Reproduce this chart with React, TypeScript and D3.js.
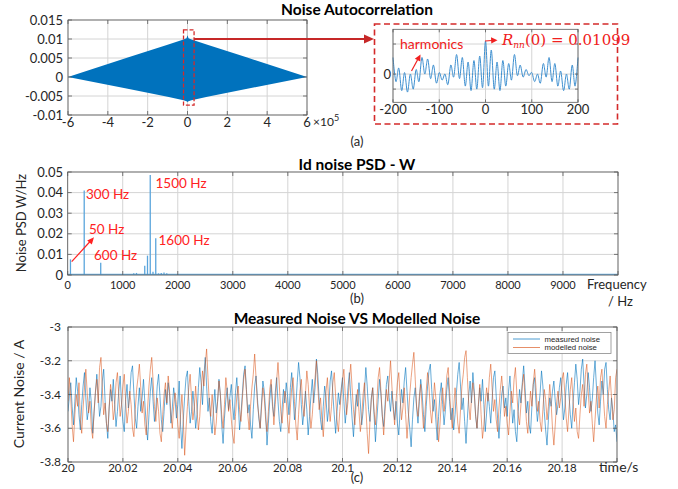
import * as d3 from "d3";
import React from "react";

// (a) autocorrelation envelope
const acLag = [-6e5, -3e5, -1e5, -2e4, -5e3, 0, 5e3, 2e4, 1e5, 3e5, 6e5];
const acUpper = [0, 0.0051, 0.0085, 0.0099, 0.0102, 0.011, 0.0102, 0.0099, 0.0085, 0.0051, 0];
const acLower = [0, -0.0031, -0.0052, -0.0061, -0.0064, -0.0066, -0.0064, -0.0061, -0.0052, -0.0031, 0];

// inset, lag -200..200 every 6.25
const insetVal = [
  5.5, -2.5, 2.0, -5.5, 0.5, -6.0, 0.0, -5.0, 1.5, -2.5, 5.5, 0.0, 5.0, -1.5, 3.0, -3.0,
  0.5, -2.0, 0.0, -3.5, 3.0, -1.0, 6.5, -1.5, 5.5, -4.0, 4.0, -5.5, 4.5, -5.0, 6.0, -4.5,
  11.0, -4.0, 8.0, -5.0, 4.0, -5.5, 4.5, -4.0, 3.5, -2.0, 6.5, -0.5, 3.0, -1.0, 1.5, -0.5,
  0.5, -2.5, 0.0, -3.0, 3.5, -1.0, 5.5, -2.5, 3.5, -4.0, 1.0, -5.5, 0.0, -5.0, 3.0, -4.0, 5.5,
];
const insetLag = insetVal.map((_, i) => -200 + i * 6.25);

// (b) PSD spikes
const psdFreq = [50, 300, 600, 1200, 1250, 1400, 1450, 1500, 1550, 1600, 1650, 1700, 1750, 1800, 2000];
const psdVal = [0.0076, 0.041, 0.006, 0.0008, 0.001, 0.0045, 0.0094, 0.0485, 0.0016, 0.0178, 0.0008, 0.001, 0.0012, 0.0009, 0.0004];

// (c) noise, 20.000..20.200 every 0.5 ms
const measured = [
  -3.50,-3.41,-3.33,-3.47,-3.58,-3.44,-3.30,-3.38,-3.52,-3.61,-3.46,-3.35,-3.27,-3.42,-3.55,-3.49,-3.36,-3.45,-3.63,-3.51,
  -3.39,-3.28,-3.40,-3.53,-3.47,-3.32,-3.25,-3.43,-3.57,-3.66,-3.48,-3.37,-3.44,-3.31,-3.46,-3.59,-3.50,-3.38,-3.29,-3.45,
  -3.56,-3.62,-3.43,-3.34,-3.48,-3.40,-3.27,-3.23,-3.39,-3.54,-3.60,-3.47,-3.36,-3.50,-3.42,-3.31,-3.45,-3.58,-3.67,-3.52,
  -3.38,-3.30,-3.44,-3.56,-3.49,-3.35,-3.28,-3.41,-3.55,-3.62,-3.50,-3.37,-3.46,-3.33,-3.40,-3.57,-3.48,-3.36,-3.43,-3.54,
  -3.46,-3.32,-3.58,-3.72,-3.55,-3.41,-3.30,-3.26,-3.44,-3.57,-3.50,-3.38,-3.47,-3.60,-3.52,-3.36,-3.24,-3.33,-3.46,-3.29,
  -3.18,-3.35,-3.50,-3.42,-3.56,-3.63,-3.48,-3.37,-3.51,-3.44,-3.31,-3.40,-3.58,-3.69,-3.54,-3.43,-3.36,-3.49,-3.41,-3.34,
  -3.47,-3.55,-3.39,-3.30,-3.44,-3.61,-3.52,-3.40,-3.28,-3.23,-3.37,-3.51,-3.46,-3.58,-3.66,-3.49,-3.35,-3.29,-3.42,-3.54,
  -3.60,-3.45,-3.32,-3.38,-3.50,-3.70,-3.57,-3.43,-3.34,-3.47,-3.53,-3.39,-3.30,-3.44,-3.56,-3.62,-3.48,-3.37,-3.45,-3.33,
  -3.41,-3.52,-3.36,-3.27,-3.40,-3.55,-3.47,-3.33,-3.21,-3.30,-3.46,-3.58,-3.50,-3.38,-3.49,-3.64,-3.53,-3.41,-3.31,-3.45,
  -3.36,-3.19,-3.28,-3.43,-3.55,-3.61,-3.47,-3.35,-3.42,-3.56,-3.48,-3.32,-3.26,-3.40,-3.52,-3.63,-3.50,-3.39,-3.46,-3.37,
  -3.30,-3.44,-3.57,-3.48,-3.36,-3.27,-3.41,-3.54,-3.65,-3.51,-3.40,-3.47,-3.33,-3.45,-3.58,-3.50,-3.38,-3.24,-3.35,-3.49,
  -3.56,-3.42,-3.36,-3.52,-3.68,-3.55,-3.43,-3.31,-3.40,-3.53,-3.59,-3.46,-3.34,-3.29,-3.42,-3.50,-3.38,-3.47,-3.55,-3.44,
  -3.57,-3.64,-3.49,-3.37,-3.45,-3.32,-3.24,-3.38,-3.51,-3.60,-3.71,-3.55,-3.42,-3.36,-3.48,-3.57,-3.44,-3.31,-3.39,-3.52,
  -3.62,-3.47,-3.35,-3.26,-3.22,-3.37,-3.50,-3.43,-3.55,-3.67,-3.53,-3.40,-3.33,-3.46,-3.58,-3.49,-3.37,-3.30,-3.44,-3.55,
  -3.48,-3.61,-3.52,-3.39,-3.28,-3.21,-3.35,-3.49,-3.42,-3.56,-3.69,-3.54,-3.40,-3.32,-3.45,-3.27,-3.38,-3.53,-3.60,-3.47,
  -3.36,-3.44,-3.31,-3.46,-3.62,-3.51,-3.39,-3.47,-3.57,-3.43,-3.30,-3.26,-3.41,-3.54,-3.66,-3.52,-3.40,-3.35,-3.48,-3.42,
  -3.53,-3.38,-3.29,-3.43,-3.57,-3.49,-3.62,-3.68,-3.50,-3.37,-3.45,-3.33,-3.23,-3.36,-3.51,-3.44,-3.58,-3.63,-3.47,-3.34,
  -3.30,-3.45,-3.56,-3.48,-3.39,-3.26,-3.35,-3.50,-3.61,-3.70,-3.55,-3.42,-3.47,-3.38,-3.32,-3.44,-3.52,-3.46,-3.36,-3.30,
  -3.42,-3.55,-3.48,-3.34,-3.27,-3.40,-3.52,-3.60,-3.45,-3.33,-3.22,-3.31,-3.46,-3.38,-3.25,-3.19,-3.34,-3.48,-3.40,-3.27,
  -3.36,-3.50,-3.43,-3.30,-3.20,-3.35,-3.51,-3.58,-3.44,-3.32,-3.40,-3.25,-3.21,-3.37,-3.49,-3.55,-3.42,-3.50,-3.62,-3.58,
  -3.68,
];
const modelled = [
  -3.44,-3.30,-3.42,-3.58,-3.68,-3.52,-3.40,-3.47,-3.33,-3.55,-3.63,-3.48,-3.36,-3.25,-3.39,-3.51,-3.44,-3.60,-3.66,-3.50,
  -3.38,-3.31,-3.45,-3.24,-3.18,-3.36,-3.52,-3.45,-3.57,-3.62,-3.47,-3.34,-3.41,-3.55,-3.48,-3.33,-3.27,-3.40,-3.53,-3.46,
  -3.35,-3.28,-3.44,-3.57,-3.50,-3.38,-3.46,-3.60,-3.65,-3.49,-3.37,-3.30,-3.22,-3.36,-3.51,-3.44,-3.58,-3.64,-3.48,-3.35,
  -3.25,-3.18,-3.32,-3.47,-3.56,-3.42,-3.50,-3.63,-3.68,-3.52,-3.40,-3.33,-3.45,-3.29,-3.38,-3.52,-3.60,-3.47,-3.39,-3.46,
  -3.58,-3.66,-3.52,-3.40,-3.55,-3.76,-3.60,-3.47,-3.36,-3.28,-3.42,-3.55,-3.48,-3.35,-3.49,-3.61,-3.53,-3.38,-3.26,-3.35,
  -3.22,-3.13,-3.30,-3.45,-3.53,-3.40,-3.51,-3.64,-3.57,-3.44,-3.32,-3.40,-3.52,-3.60,-3.46,-3.30,-3.38,-3.50,-3.43,-3.55,
  -3.64,-3.69,-3.53,-3.41,-3.35,-3.49,-3.56,-3.43,-3.31,-3.25,-3.38,-3.52,-3.61,-3.47,-3.36,-3.28,-3.16,-3.30,-3.45,-3.52,
  -3.60,-3.48,-3.36,-3.42,-3.55,-3.62,-3.50,-3.37,-3.31,-3.44,-3.58,-3.46,-3.32,-3.21,-3.35,-3.50,-3.57,-3.46,-3.38,-3.43,
  -3.55,-3.63,-3.48,-3.36,-3.30,-3.44,-3.58,-3.67,-3.52,-3.38,-3.31,-3.46,-3.53,-3.40,-3.26,-3.34,-3.48,-3.60,-3.52,-3.39,
  -3.30,-3.20,-3.35,-3.49,-3.42,-3.55,-3.65,-3.51,-3.38,-3.30,-3.45,-3.56,-3.47,-3.33,-3.27,-3.41,-3.55,-3.62,-3.50,-3.40,
  -3.32,-3.25,-3.40,-3.52,-3.44,-3.31,-3.22,-3.36,-3.49,-3.58,-3.45,-3.37,-3.50,-3.62,-3.54,-3.40,-3.33,-3.47,-3.63,-3.75,
  -3.56,-3.43,-3.36,-3.50,-3.58,-3.45,-3.30,-3.24,-3.38,-3.52,-3.64,-3.50,-3.37,-3.44,-3.32,-3.20,-3.35,-3.49,-3.58,-3.44,
  -3.33,-3.27,-3.42,-3.55,-3.48,-3.36,-3.52,-3.66,-3.54,-3.40,-3.30,-3.22,-3.15,-3.31,-3.47,-3.53,-3.41,-3.34,-3.48,-3.60,
  -3.52,-3.38,-3.27,-3.35,-3.49,-3.57,-3.46,-3.33,-3.42,-3.55,-3.68,-3.58,-3.44,-3.36,-3.50,-3.42,-3.29,-3.24,-3.38,-3.52,
  -3.60,-3.48,-3.36,-3.44,-3.57,-3.63,-3.49,-3.35,-3.28,-3.18,-3.14,-3.30,-3.46,-3.55,-3.42,-3.33,-3.40,-3.52,-3.60,-3.46,
  -3.34,-3.52,-3.66,-3.58,-3.45,-3.36,-3.44,-3.30,-3.22,-3.36,-3.50,-3.43,-3.55,-3.62,-3.48,-3.37,-3.29,-3.40,-3.53,-3.47,
  -3.57,-3.64,-3.50,-3.38,-3.45,-3.31,-3.24,-3.39,-3.52,-3.58,-3.46,-3.35,-3.28,-3.42,-3.56,-3.63,-3.50,-3.38,-3.47,-3.33,
  -3.25,-3.36,-3.50,-3.44,-3.56,-3.62,-3.49,-3.37,-3.43,-3.55,-3.47,-3.34,-3.45,-3.60,-3.70,-3.58,-3.45,-3.38,-3.48,-3.42,
  -3.31,-3.27,-3.40,-3.54,-3.62,-3.49,-3.37,-3.30,-3.44,-3.56,-3.48,-3.62,-3.66,-3.52,-3.40,-3.34,-3.47,-3.28,-3.22,-3.38,
  -3.51,-3.44,-3.57,-3.68,-3.55,-3.42,-3.35,-3.48,-3.30,-3.25,-3.40,-3.53,-3.60,-3.46,-3.38,-3.29,-3.42,-3.55,-3.49,-3.30,
  -3.25,
];
const timeOf = (n: number) => (i: number) => 20 + (i * 0.2) / (n - 1);

const aXTicks = [-6, -4, -2, 0, 2, 4, 6];
const aYTicks = [-0.01, -0.005, 0, 0.005, 0.01, 0.015];
const aYLabels = ["-0.01", "-0.005", "0", "0.005", "0.01", "0.015"];
const insetXTicks = [-200, -100, 0, 100, 200];
const insetYTicks = [-0.005, 0, 0.01];
const bXTicks = [0, 1000, 2000, 3000, 4000, 5000, 6000, 7000, 8000, 9000, 10000];
const bYTicks = [0, 0.01, 0.02, 0.03, 0.04, 0.05];
const cXTicks = [20, 20.02, 20.04, 20.06, 20.08, 20.1, 20.12, 20.14, 20.16, 20.18, 20.2];
const cYTicks = [-3.8, -3.6, -3.4, -3.2, -3];

const SANS = "Lato, 'Open Sans', sans-serif";
const TXT = "#262626";
const GRID = "#d4d4d4";
const FRAME = "#5a5a5a";
const BLUE = "#0072BD";
const ORANGE = "#D95319";

function Grid({ x, y, xt, yt }: any) {
  const [x0, x1] = x.range();
  const [y0, y1] = y.range();
  return (
    <g>
      {xt.map((t: number, i: number) => (
        <line key={"gx" + i} x1={x(t)} x2={x(t)} y1={y0} y2={y1} stroke={GRID} strokeWidth={1} />
      ))}
      {yt.map((t: number, i: number) => (
        <line key={"gy" + i} x1={x0} x2={x1} y1={y(t)} y2={y(t)} stroke={GRID} strokeWidth={1} />
      ))}
    </g>
  );
}

function Box({ x, y, xt, yt, tick = 4 }: any) {
  const [x0, x1] = x.range();
  const [y0, y1] = y.range();
  return (
    <g stroke={FRAME} strokeWidth={0.8} fill="none">
      <rect x={x0} y={y1} width={x1 - x0} height={y0 - y1} />
      {xt.map((t: number, i: number) => (
        <g key={"tx" + i}>
          <line x1={x(t)} x2={x(t)} y1={y0} y2={y0 - tick} />
          <line x1={x(t)} x2={x(t)} y1={y1} y2={y1 + tick} />
        </g>
      ))}
      {yt.map((t: number, i: number) => (
        <g key={"ty" + i}>
          <line x1={x0} x2={x0 + tick} y1={y(t)} y2={y(t)} />
          <line x1={x1} x2={x1 - tick} y1={y(t)} y2={y(t)} />
        </g>
      ))}
    </g>
  );
}

export default function App() {
  const xA = d3.scaleLinear().domain([-6e5, 6e5]).range([68, 307]);
  const yA = d3.scaleLinear().domain([-0.01, 0.015]).range([115, 20]);
  const xI = d3.scaleLinear().domain([-200, 200]).range([393, 578]);
  const yI = d3.scaleLinear().domain([-0.0094, 0.0149]).range([102.3, 29.3]);
  const xB = d3.scaleLinear().domain([0, 10000]).range([67.7, 618]);
  const yB = d3.scaleLinear().domain([0, 0.05]).range([275, 172]);
  const xC = d3.scaleLinear().domain([20, 20.2]).range([68, 617]);
  const yC = d3.scaleLinear().domain([-3.8, -3]).range([462, 327]);

  const acArea = d3
    .area<number>()
    .x((_, i) => xA(acLag[i]))
    .y0((_, i) => yA(acLower[i]))
    .y1((d) => yA(d));

  const insetLine = d3
    .line<number>()
    .x((_, i) => xI(insetLag[i]))
    .y((d) => yI(d / 1000))
    .curve(d3.curveCardinal);

  const noisePath = (vals: number[]) => {
    const t = timeOf(vals.length);
    return d3
      .line<number>()
      .x((_, i) => xC(t(i)))
      .y((d) => yC(d))(vals) || "";
  };

  const rx0 = xA(-2e4), rx1 = xA(3.3e4);
  const ry0 = yA(0.0124), ry1 = yA(-0.0074);
  const arrowY = yA(0.01);

  return (
    <svg width={678} height={489} style={{ position: "absolute", left: 0, top: 0, background: "#fff" }} fontFamily={SANS}>
      {/* ---------- (a) ---------- */}
      <text x={357} y={15} textAnchor="middle" fontWeight="bold" fontSize={15.5} fill="#000">Noise Autocorrelation</text>
      <Grid x={xA} y={yA} xt={aXTicks.map((d) => d * 1e5)} yt={aYTicks} />
      <path d={acArea(acUpper) || ""} fill={BLUE} />
      <Box x={xA} y={yA} xt={aXTicks.map((d) => d * 1e5)} yt={aYTicks} />
      {aYTicks.map((t, i) => (
        <text key={i} x={63} y={yA(t) + 4.5} textAnchor="end" fontSize={13} fill={TXT}>{aYLabels[i]}</text>
      ))}
      {aXTicks.map((t, i) => (
        <text key={i} x={xA(t * 1e5)} y={127} textAnchor="middle" fontSize={13} fill={TXT}>{t}</text>
      ))}
      <text x={313} y={126} fontSize={12} fill={TXT}>×10<tspan dy={-5} fontSize={9}>5</tspan></text>
      <rect x={rx0} y={ry0} width={rx1 - rx0} height={ry1 - ry0} fill="none" stroke="#d42a2a" strokeWidth={1.3} strokeDasharray="4,2" />
      <line x1={rx1} x2={368} y1={arrowY} y2={arrowY} stroke="#c62828" strokeWidth={2} />
      <polygon points={`374,${arrowY} 364,${arrowY - 4.5} 364,${arrowY + 4.5}`} fill="#c62828" />
      <rect x={374.5} y={24} width={243} height={100} fill="none" stroke="#d42a2a" strokeWidth={1.6} strokeDasharray="6,3.5" />
      {/* inset */}
      <Grid x={xI} y={yI} xt={insetXTicks} yt={insetYTicks} />
      <path d={insetLine(insetVal) || ""} fill="none" stroke="#3d8fd0" strokeWidth={1} />
      <Box x={xI} y={yI} xt={insetXTicks} yt={insetYTicks} tick={3} />
      {insetXTicks.map((t, i) => (
        <text key={i} x={xI(t)} y={114} textAnchor="middle" fontSize={13} fill={TXT}>{t}</text>
      ))}
      <text x={391} y={yI(0) + 4.5} textAnchor="end" fontSize={13} fill={TXT}>0</text>
      <text x={400} y={49} fontSize={14} fill="#f02020">harmonics</text>
      <line x1={411.5} y1={71} x2={418} y2={59} stroke="#f02020" strokeWidth={1.2} />
      <polygon points="420.5,54.5 414.8,58.8 420.3,61.5" fill="#f02020" />
      <line x1={485} y1={41} x2={492} y2={40.5} stroke="#f02020" strokeWidth={1.2} />
      <polygon points="497.5,40.2 491,37.2 491.3,43.4" fill="#f02020" />
      <text x={502} y={45} fontSize={15} fill="#f02020" fontFamily="'DejaVu Serif', serif">
        <tspan fontStyle="italic">R</tspan>
        <tspan fontStyle="italic" fontSize={9} dy={3}>nn</tspan>
        <tspan dy={-3}>(0) = 0.01099</tspan>
      </text>
      <text x={357} y={146} textAnchor="middle" fontSize={13} fill={TXT}>(a)</text>

      {/* ---------- (b) ---------- */}
      <text x={357} y={170} textAnchor="middle" fontWeight="bold" fontSize={15.5} fill="#000">Id noise PSD - W</text>
      <Grid x={xB} y={yB} xt={bXTicks} yt={bYTicks} />
      <line x1={xB(0)} x2={xB(10000)} y1={yB(0.0003)} y2={yB(0.0003)} stroke="#6aaee0" strokeWidth={1.2} />
      {psdFreq.map((f, i) => (
        <line key={i} x1={xB(f)} x2={xB(f)} y1={yB(0)} y2={yB(psdVal[i])} stroke="#5aa5dc" strokeWidth={1.3} />
      ))}
      <Box x={xB} y={yB} xt={bXTicks} yt={bYTicks} />
      {bYTicks.map((t, i) => (
        <text key={i} x={63} y={yB(t) + 4.5} textAnchor="end" fontSize={13} fill={TXT}>{t}</text>
      ))}
      {bXTicks.slice(0, -1).map((t, i) => (
        <text key={i} x={xB(t)} y={289} textAnchor="middle" fontSize={11} fill={TXT}>{t}</text>
      ))}
      <text x={587} y={289} fontSize={13} fill={TXT}>Frequency</text>
      <text x={608} y={306} fontSize={13} fill={TXT}>/ Hz</text>
      <text transform="translate(26,223) rotate(-90)" textAnchor="middle" fontSize={13} fill={TXT}>Noise PSD W/Hz</text>
      <g fill="#f22" fontSize={13.5}>
        <text x={86} y={199}>300 Hz</text>
        <text x={155.5} y={188}>1500 Hz</text>
        <text x={89} y={234}>50 Hz</text>
        <text x={158.5} y={245}>1600 Hz</text>
        <text x={94} y={260}>600 Hz</text>
      </g>
      <line x1={71.7} y1={261.7} x2={90.5} y2={241} stroke="#f22" strokeWidth={1.2} />
      <polygon points="94,237.3 87.2,240.6 91.8,244.6" fill="#f22" />
      <text x={357} y={303} textAnchor="middle" fontSize={13} fill={TXT}>(b)</text>

      {/* ---------- (c) ---------- */}
      <text x={357} y={324} textAnchor="middle" fontWeight="bold" fontSize={15.5} fill="#000">Measured Noise VS Modelled Noise</text>
      <Grid x={xC} y={yC} xt={cXTicks} yt={cYTicks} />
      <defs>
        <clipPath id="clipC">
          <rect x={68} y={327} width={549} height={135} />
        </clipPath>
      </defs>
      <g clipPath="url(#clipC)">
        <path d={noisePath(measured)} fill="none" stroke={BLUE} strokeOpacity={0.65} strokeWidth={0.9} />
        <path d={noisePath(modelled)} fill="none" stroke={ORANGE} strokeOpacity={0.6} strokeWidth={0.9} />
      </g>
      <Box x={xC} y={yC} xt={cXTicks} yt={cYTicks} />
      {cYTicks.map((t, i) => (
        <text key={i} x={61} y={yC(t) + 4} textAnchor="end" fontSize={12} fill={TXT}>{t}</text>
      ))}
      {cXTicks.slice(0, -1).map((t, i) => (
        <text key={i} x={xC(t)} y={472} textAnchor="middle" fontSize={11.5} fill={TXT}>{+t.toFixed(2)}</text>
      ))}
      <text x={599} y={471.5} fontSize={14} fill={TXT}>time/s</text>
      <text transform="translate(24,394) rotate(-90)" textAnchor="middle" fontSize={14} fill={TXT}>Current Noise / A</text>
      <rect x={508} y={332.5} width={103} height={21} fill="#fff" stroke="#8a8a8a" strokeWidth={0.8} />
      <line x1={513} x2={540} y1={339} y2={339} stroke={BLUE} strokeOpacity={0.7} />
      <line x1={513} x2={540} y1={347.5} y2={347.5} stroke={ORANGE} strokeOpacity={0.65} />
      <text x={544.5} y={341.6} fontSize={7.8} fill={TXT} fontFamily="'Liberation Sans', Arial, sans-serif">measured noise</text>
      <text x={544.5} y={350.3} fontSize={7.8} fill={TXT} fontFamily="'Liberation Sans', Arial, sans-serif">modelled noise</text>
      <text x={357} y={482} textAnchor="middle" fontSize={13} fill={TXT}>(c)</text>
    </svg>
  );
}
